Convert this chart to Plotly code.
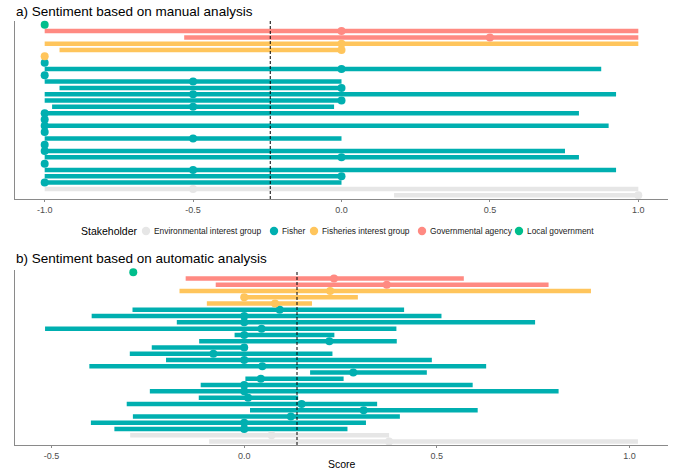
import plotly.graph_objects as go

# ---------------- data ----------------
groups = ["Environmental interest group", "Fisher", "Fisheries interest group",
          "Governmental agency", "Local government"]
group_colors = ["#E6E6E6", "#00AFB0", "#FFC55C", "#FF8A82", "#00BE8C"]

# one entry per document row, top to bottom
row_stakeholder = (["Local government"] + ["Governmental agency"] * 2 +
                   ["Fisheries interest group"] * 3 + ["Fisher"] * 20 +
                   ["Environmental interest group"] * 2)

# a) manual analysis
manual_low = [-1.0, -1.0, -0.53, -1.0, -0.95, -1.0, -1.0, -1.0, -1.0, -1.0,
              -0.95, -1.0, -1.0, -0.975, -1.0, -1.0, -1.0, -1.0, -1.0, -1.0,
              -1.0, -1.0, -1.0, -1.0, -1.0, -1.0, -1.0, 0.177]
manual_high = [-1.0, 1.0, 1.0, 1.0, 0.0, -1.0, -1.0, 0.875, -1.0, 0.0,
               0.0, 0.925, 0.0, -0.025, 0.80, -1.0, 0.90, -1.0, 0.0, -1.0,
               0.753, 0.80, -1.0, 0.925, 0.0, 0.0, 1.0, 1.0]
manual_score = [-1.0, 0.0, 0.5, 0.0, 0.0, -1.0, -1.0, 0.0, -1.0, -0.5,
                0.0, -0.5, 0.0, -0.5, -1.0, -1.0, -1.0, -1.0, -0.5, -1.0,
                -1.0, 0.0, -1.0, -0.5, 0.0, -1.0, -0.5, 1.0]
manual_mean = -0.24

# b) automatic analysis
auto_low = [-0.288, -0.152, -0.074, -0.168, 0.0, -0.097, -0.290, -0.396, -0.175, -0.517,
            -0.025, -0.117, -0.240, -0.297, -0.203, -0.402, 0.171, 0.003, -0.113, -0.245,
            -0.118, -0.305, 0.015, -0.289, -0.398, -0.337, -0.296, -0.091]
auto_high = [-0.288, 0.570, 0.790, 0.900, 0.295, 0.176, 0.415, 0.512, 0.755, 0.395,
             0.234, 0.396, 0.004, 0.229, 0.487, 0.628, 0.474, 0.258, 0.593, 0.816,
             0.140, 0.345, 0.606, 0.404, 0.316, 0.268, 0.376, 1.022]
auto_score = [-0.288, 0.233, 0.370, 0.223, 0.0, 0.080, 0.092, 0.0, 0.0, 0.045,
              0.0, 0.221, 0.0, -0.080, 0.0, 0.047, 0.283, 0.043, 0.0, 0.0,
              0.010, 0.149, 0.310, 0.121, 0.0, 0.0, 0.071, 0.376]
auto_mean = 0.137

x_tick_vals = [-1.0, -0.5, 0.0, 0.5, 1.0]
x_tick_text = ["-1.0", "-0.5", "0.0", "0.5", "1.0"]

legend_title = "Stakeholder"
x_title = "Score"

# ---------------- figure ----------------
W, H = 680, 471
fig = go.Figure()
rows = list(range(1, len(row_stakeholder) + 1))


def add_panel(low, high, score, xa, ya):
    # ranges (lines) first, grouped by stakeholder
    for g, c in zip(groups, group_colors):
        xs, ys = [], []
        for r, s, lo, hi in zip(rows, row_stakeholder, low, high):
            if s == g and hi > lo:
                xs += [lo, hi, None]
                ys += [r, r, None]
        fig.add_trace(go.Scatter(x=xs, y=ys, mode="lines", xaxis=xa, yaxis=ya,
                                 line=dict(color=c, width=4.5), showlegend=False,
                                 hoverinfo="skip"))
    for g, c in zip(groups, group_colors):
        xs = [v for s, v in zip(row_stakeholder, score) if s == g]
        ys = [r for s, r in zip(row_stakeholder, rows) if s == g]
        fig.add_trace(go.Scatter(x=xs, y=ys, mode="markers", xaxis=xa, yaxis=ya,
                                 marker=dict(color=c, size=8), showlegend=False,
                                 cliponaxis=False, name=g))


add_panel(manual_low, manual_high, manual_score, "x", "y")
add_panel(auto_low, auto_high, auto_score, "x2", "y2")

# ---- legend drawn as a compact ggplot-style key row ----
legend_y = 1 - 231 / H
legend_dot_px = [146, 274, 314, 422, 519]
shapes = []
annotations = [
    dict(text=legend_title, xref="paper", yref="paper", x=79 / W, y=legend_y,
         xanchor="left", yanchor="middle", showarrow=False,
         font=dict(size=10.5, color="black")),
]
for g, c, px in zip(groups, group_colors, legend_dot_px):
    r = 4.2
    shapes.append(dict(type="circle", xref="paper", yref="paper",
                       x0=(px - r) / W, x1=(px + r) / W,
                       y0=legend_y - r / H, y1=legend_y + r / H,
                       fillcolor=c, line=dict(width=0)))
    annotations.append(dict(text=g, xref="paper", yref="paper", x=(px + 6) / W, y=legend_y,
                            xanchor="left", yanchor="middle", showarrow=False,
                            font=dict(size=8.4, color="#1A1A1A")))

x0, x1 = 15 / W, 668 / W
axis_common = dict(showline=True, linecolor="#8A8A8A", linewidth=1, showgrid=False,
                   zeroline=False, ticks="outside", ticklen=2, tickcolor="#8A8A8A",
                   tickvals=x_tick_vals, ticktext=x_tick_text,
                   tickfont=dict(size=9, color="#4D4D4D"))
shapes += [
    dict(type="line", xref="x", yref="y domain", x0=manual_mean, x1=manual_mean,
         y0=0, y1=1, line=dict(color="black", width=1, dash="3px,2px")),
    dict(type="line", xref="x2", yref="y2 domain", x0=auto_mean, x1=auto_mean,
         y0=0, y1=1, line=dict(color="black", width=1, dash="3px,2px")),
]
annotations += [
    dict(text="a) Sentiment based on manual analysis", xref="paper", yref="paper",
         x=14 / W, y=1 - 12 / H, xanchor="left", yanchor="middle", showarrow=False,
         font=dict(size=13.5, color="black")),
    dict(text="b) Sentiment based on automatic analysis", xref="paper", yref="paper",
         x=14 / W, y=1 - 258 / H, xanchor="left", yanchor="middle", showarrow=False,
         font=dict(size=13.5, color="black")),
    dict(text=x_title, xref="paper", yref="paper", x=(x0 + x1) / 2, y=1 - 464 / H,
         xanchor="center", yanchor="middle", showarrow=False,
         font=dict(size=10.5, color="black")),
]

fig.update_layout(
    width=W, height=H, margin=dict(l=0, r=0, t=0, b=0),
    plot_bgcolor="white", paper_bgcolor="white", showlegend=False,
    font=dict(family="Liberation Sans, Arial, sans-serif"),
    xaxis=dict(domain=[x0, x1], range=[-1.1, 1.1], anchor="y", **axis_common),
    yaxis=dict(domain=[1 - 199 / H, 1 - 21 / H], range=[28.6, 0.4], showticklabels=False,
               showline=True, linecolor="#8A8A8A", showgrid=False, zeroline=False,
               ticks="", anchor="x"),
    xaxis2=dict(domain=[x0, x1], range=[-0.595, 1.1], anchor="y2", **axis_common),
    yaxis2=dict(domain=[1 - 445 / H, 1 - 270 / H], range=[28.55, 0.65], showticklabels=False,
                showline=True, linecolor="#8A8A8A", showgrid=False, zeroline=False,
                ticks="", anchor="x2"),
    shapes=shapes,
    annotations=annotations,
)

fig.write_html("out.html", config={"displayModeBar": False},
               post_script="document.body.style.margin='0';document.body.style.overflow='hidden';")
